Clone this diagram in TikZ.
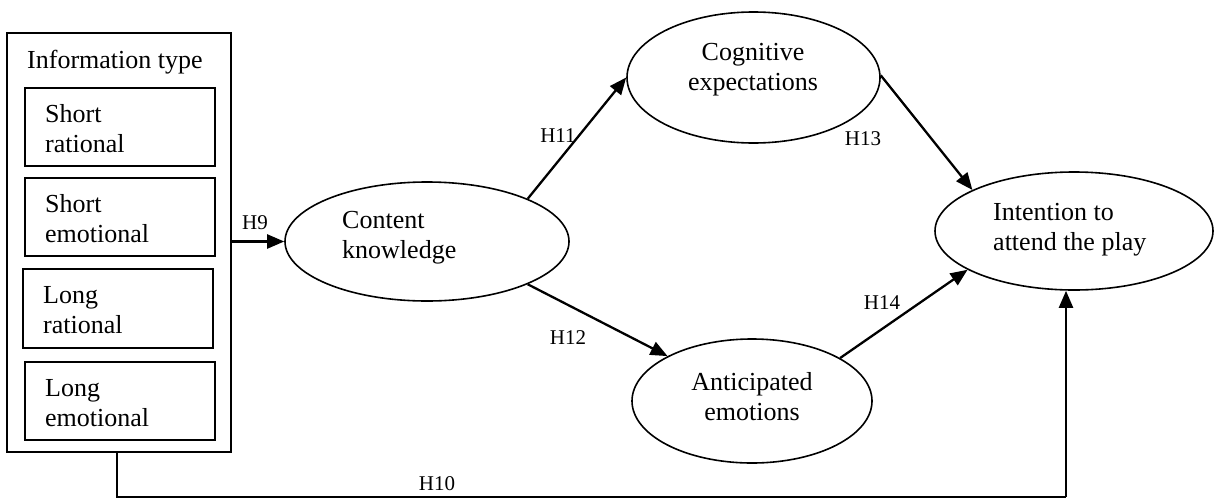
\documentclass[tikz,border=0pt]{standalone}
\usepackage{fontspec}
\setmainfont{Liberation Serif}
\usetikzlibrary{arrows.meta,shapes.geometric}
\tikzset{
  big/.style={font=\fontsize{26}{30}\selectfont, inner sep=0pt},
  lbl/.style={font=\fontsize{21}{24}\selectfont, inner sep=0pt},
  frame/.style={draw, line width=1.4pt, rectangle, inner sep=0pt},
  oval/.style={draw, line width=1.6pt, ellipse, inner sep=0pt},
  arr/.style={line width=2.3pt, -{Triangle[length=17pt,width=14pt]}},
}
\begin{document}
\begin{tikzpicture}[x=1pt,y=-1pt]
\useasboundingbox (0,0) rectangle (1214,498);
% information type block
\node[frame, minimum width=224pt, minimum height=419pt] (info) at (119,242.5) {};
\node[big, anchor=west] (title) at (27,62) {Information type};
\node[frame, minimum width=190pt, minimum height=78pt] (b1) at (120,127) {};
\node[frame, minimum width=190pt, minimum height=78pt] (b2) at (120,217) {};
\node[frame, minimum width=190pt, minimum height=79pt] (b3) at (118,308.5) {};
\node[frame, minimum width=190pt, minimum height=78pt] (b4) at (120,401) {};
\node[big, anchor=west, align=left] (t1) at (45,129) {Short\\rational};
\node[big, anchor=west, align=left] (t2) at (45,219) {Short\\emotional};
\node[big, anchor=west, align=left] (t3) at (43,310) {Long\\rational};
\node[big, anchor=west, align=left] (t4) at (45,403) {Long\\emotional};
% ellipses
\node[oval, minimum width=284pt, minimum height=119pt] (ck) at (427,241.5) {};
\node[big, anchor=west, align=left] (ckt) at (342,238) {Content\\knowledge};
\node[oval, minimum width=253pt, minimum height=131pt] (cog) at (753.5,77.5) {};
\node[big, align=center] (cogt) at (753,70) {Cognitive\\expectations};
\node[oval, minimum width=240pt, minimum height=124pt] (ant) at (752,401) {};
\node[big, align=center] (antt) at (752,397) {Anticipated\\emotions};
\node[oval, minimum width=278pt, minimum height=118pt] (int) at (1074,231) {};
\node[big, anchor=west, align=left] (intt) at (993,230) {Intention to\\attend the play};
% connectors
\draw[arr] (info.east |- ck.west) -- (ck.west);
\draw[arr] (ck.23) -- (cog.180);
\draw[arr] (ck.-23.5) -- (ant.152);
\draw[arr] (cog.1) -- (int.158);
\draw[arr] (ant.26) -- (int.200);
\coordinate (h10a) at (117,497);
\coordinate (h10b) at (1066,497);
\draw[line width=1.4pt] (info.south -| h10a) -- (h10a) -- (h10b);
\draw[arr] (h10b) -- (h10b |- int.south);
% labels
\node[lbl] (l9) at (255,223) {H9};
\node[lbl] (l11) at (558,136) {H11};
\node[lbl] (l12) at (568,338) {H12};
\node[lbl] (l13) at (863,139) {H13};
\node[lbl] (l14) at (882,303) {H14};
\node[lbl] (l10) at (437,484) {H10};
\end{tikzpicture}
\end{document}
